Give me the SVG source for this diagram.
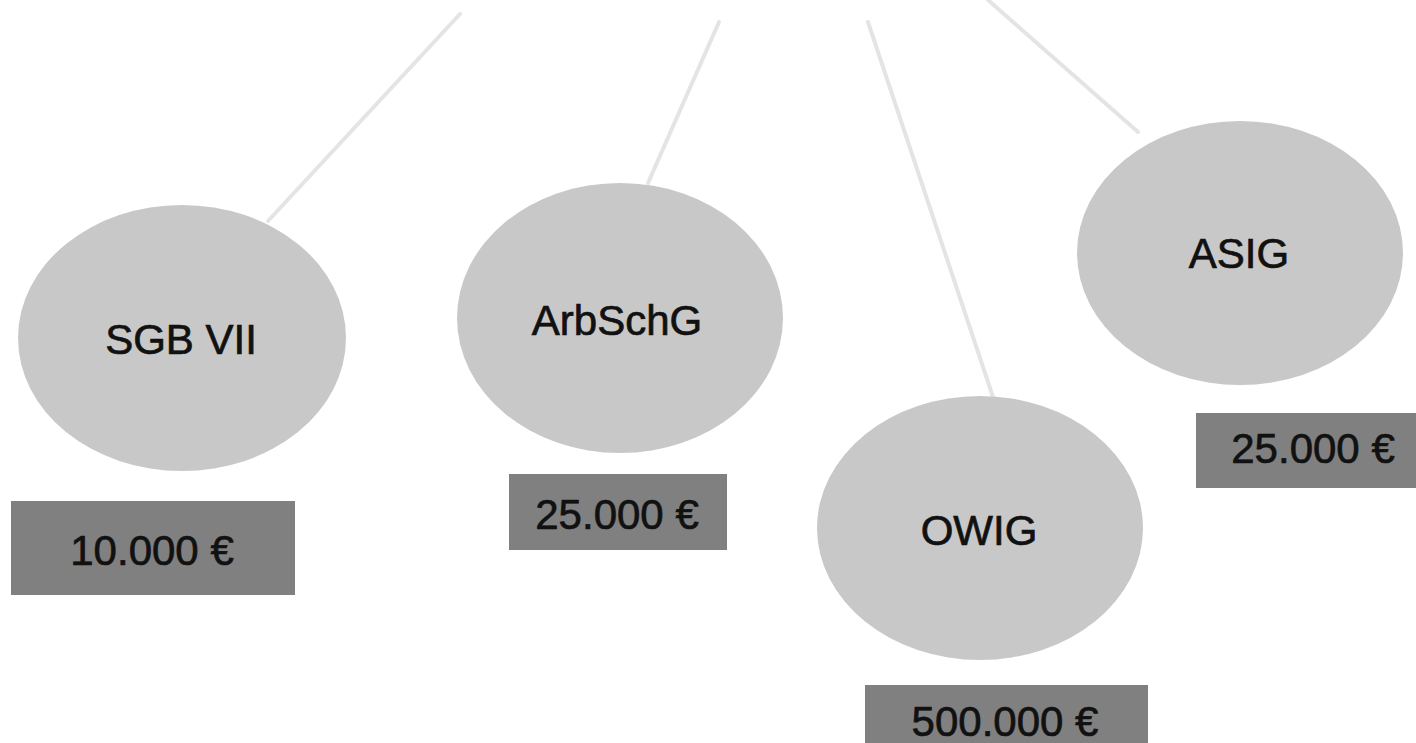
<svg xmlns="http://www.w3.org/2000/svg" width="1416" height="743" viewBox="0 0 1416 743">
  <style>
    .link { stroke: #e4e4e4; stroke-width: 4; stroke-linecap: round; fill: none; }
    .law { fill: #c8c8c8; }
    .fine { fill: #808080; }
    .label { font-family: "Liberation Sans", Arial, sans-serif; font-size: 42px; fill: #111111; stroke: #111111; stroke-width: 0.7; text-anchor: middle; }
  </style>
  <rect x="0" y="0" width="1416" height="743" fill="#ffffff"/>

  <!-- connectors from the (off-canvas) root down to each law -->
  <g id="connectors">
    <line class="link" x1="460" y1="14" x2="268" y2="221"/>
    <line class="link" x1="719" y1="22" x2="648" y2="183"/>
    <line class="link" x1="868" y1="22" x2="998" y2="412"/>
    <line class="link" x1="988" y1="0" x2="1138" y2="132"/>
  </g>

  <g id="sgb7">
    <ellipse class="law" cx="182" cy="338" rx="164" ry="133"/>
    <text class="label" x="181" y="354">SGB VII</text>
  </g>
  <g id="sgb7-fine">
    <rect class="fine" x="11" y="501" width="284" height="94"/>
    <text class="label" x="152" y="565">10.000 €</text>
  </g>

  <g id="arbschg">
    <ellipse class="law" cx="620" cy="318" rx="163" ry="135"/>
    <text class="label" x="617" y="335">ArbSchG</text>
  </g>
  <g id="arbschg-fine">
    <rect class="fine" x="509" y="474" width="218" height="76"/>
    <text class="label" x="617" y="529">25.000 €</text>
  </g>

  <g id="owig">
    <ellipse class="law" cx="980" cy="528" rx="163" ry="132"/>
    <text class="label" x="979" y="545">OWIG</text>
  </g>
  <g id="owig-fine">
    <rect class="fine" x="865" y="685" width="283" height="70"/>
    <text class="label" x="1005" y="736">500.000 €</text>
  </g>

  <g id="asig">
    <ellipse class="law" cx="1240" cy="253" rx="163" ry="132"/>
    <text class="label" x="1239" y="268">ASIG</text>
  </g>
  <g id="asig-fine">
    <rect class="fine" x="1196" y="413" width="230" height="75"/>
    <text class="label" x="1313" y="463">25.000 €</text>
  </g>
</svg>
